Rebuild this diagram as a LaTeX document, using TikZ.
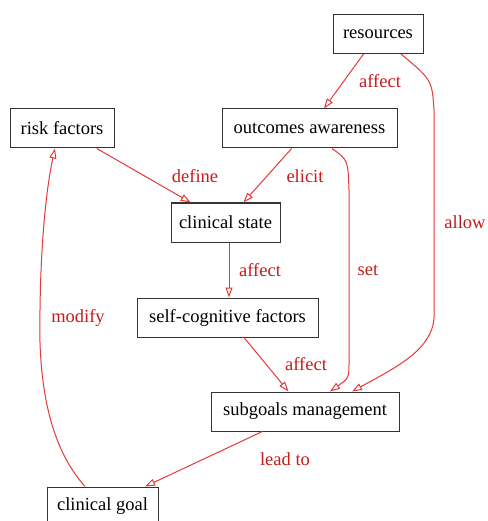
\documentclass[tikz,border=0pt]{standalone}
\usepackage{fontspec}
\setmainfont{Liberation Serif}
\usetikzlibrary{arrows.meta}
\definecolor{edgered}{RGB}{228,58,58}
\definecolor{labelred}{RGB}{196,28,28}
\tikzset{
  box/.style={draw=black!80, line width=1pt, minimum height=39pt, inner sep=0pt, font=\fontsize{18.5}{21}\selectfont},
  lbl/.style={text=labelred, inner sep=0pt, font=\fontsize{18.5}{21}\selectfont},
  rel/.style={draw=edgered, line width=1pt, -{Triangle[open, length=10pt, width=7pt]}}
}

\begin{document}
\begin{tikzpicture}[x=1pt, y=-1pt]
\useasboundingbox[fill=white] (0,0) rectangle (487,521);
\node[box, minimum width=90pt] (res) at (378,34) {resources};
\node[box, minimum width=104pt] (rf) at (62,128.5) {risk factors};
\node[box, minimum width=175pt] (oa) at (309.5,128.5) {outcomes awareness};
\node[box, minimum width=109pt] (cs) at (225.5,222.5) {clinical state};
\node[box, minimum width=181pt] (scf) at (227.5,317.5) {self-cognitive factors};
\node[box, minimum width=188pt] (sm) at (305,411.5) {subgoals management};
\node[box, minimum width=111pt] (cg) at (102.5,506.5) {clinical goal};
\node[lbl] (l1) at (380,81) {affect};
\node[lbl] (l2) at (195,176) {define};
\node[lbl] (l3) at (305,176) {elicit};
\node[lbl] (l4) at (260,270) {affect};
\node[lbl] (l5) at (368,270) {set};
\node[lbl] (l6) at (465,222) {allow};
\node[lbl] (l7) at (78,318) {modify};
\node[lbl] (l8) at (306,364) {affect};
\node[lbl] (l9) at (285,459) {lead to};
\draw[rel] (res) -- (oa);
\draw[rel] (rf) -- (cs);
\draw[rel] (oa) -- (cs);
\draw[rel] ([xshift=3.5pt]cs.south) -- ([xshift=1.5pt]scf.north);
\draw[rel] (scf) -- (sm);
\draw[rel] (sm) -- (cg);
\draw[rel] ([xshift=22.5pt]oa.south) .. controls (348,160) .. (349,190) -- (349,362) .. controls (349,378) .. ([xshift=25pt]sm.north);
\draw[rel] ([xshift=23pt]res.south) .. controls (432,80) .. (434,110) -- (434,318) .. controls (432,350) and (395,368) .. ([xshift=47pt]sm.north);
\draw[rel] ([xshift=-17.5pt]cg.north) .. controls (48,445) and (38,380) .. (40,310) .. controls (41,230) and (48,180) .. ([xshift=-7pt]rf.south);
\end{tikzpicture}
\end{document}
